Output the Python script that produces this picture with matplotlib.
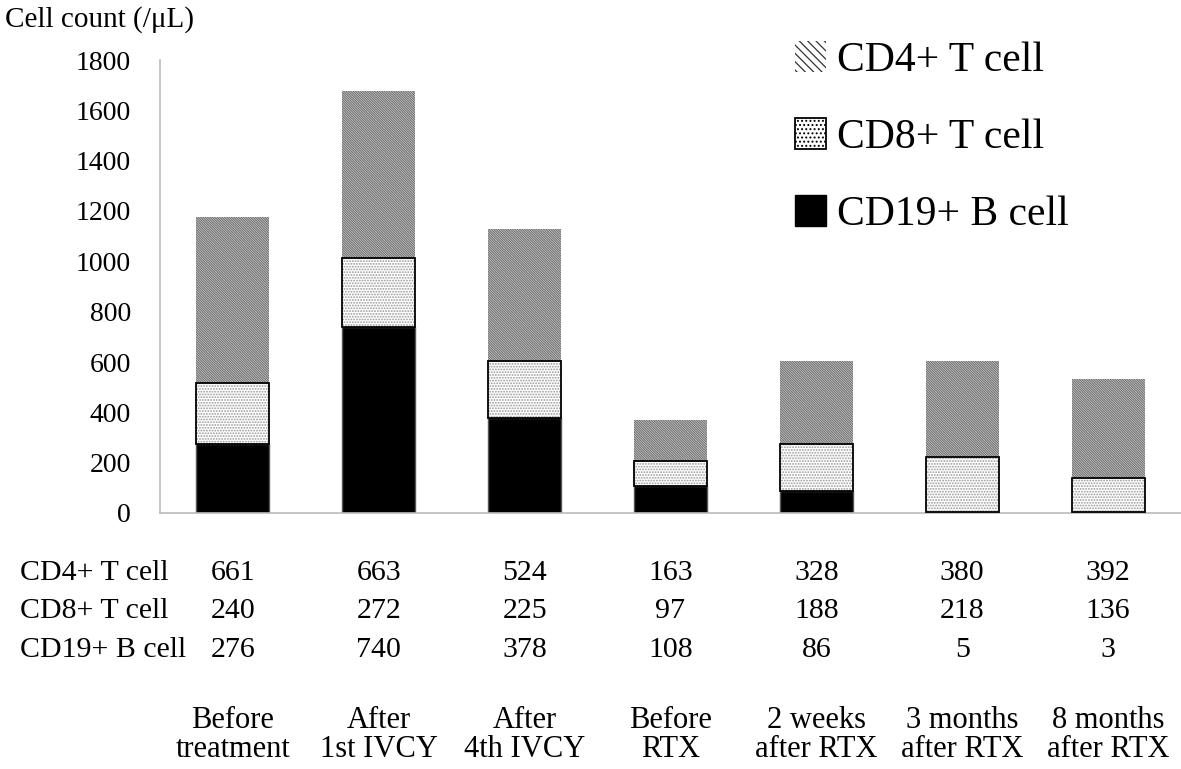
import matplotlib
matplotlib.use("Agg")
import matplotlib.pyplot as plt
from matplotlib.patches import Patch
from matplotlib.transforms import blended_transform_factory
import numpy as np

categories = ["Before\ntreatment", "After\n1st IVCY", "After\n4th IVCY", "Before\nRTX",
              "2 weeks\nafter RTX", "3 months\nafter RTX", "8 months\nafter RTX"]
cd4 = [661, 663, 524, 163, 328, 380, 392]
cd8 = [240, 272, 225, 97, 188, 218, 136]
cd19 = [276, 740, 378, 108, 86, 5, 3]
series_names = ["CD4+ T cell", "CD8+ T cell", "CD19+ B cell"]
yticks = [0, 200, 400, 600, 800, 1000, 1200, 1400, 1600, 1800]

plt.rcParams['font.family'] = ['Liberation Serif', 'DejaVu Serif']
plt.rcParams['hatch.linewidth'] = 0.9

W, H = 1181, 769
fig = plt.figure(figsize=(W / 100, H / 100), dpi=100)
ax = fig.add_axes([160 / W, 1 - 513 / H, 1 - 160 / W, (513 - 60) / H])

x = np.arange(len(categories))
bw = 0.5
cd19a = np.array(cd19)
cd8a = np.array(cd8)
cd4a = np.array(cd4)

ax.bar(x, cd19a, bw, color='black', edgecolor='#555555', linewidth=1.0, zorder=2)
ax.bar(x, cd8a, bw, bottom=cd19a, facecolor='white', edgecolor='#999999',
       hatch='......', linewidth=0, zorder=2)
ax.bar(x, cd8a, bw, bottom=cd19a, fill=False, edgecolor='black', linewidth=1.3, zorder=3)
ax.bar(x, cd4a, bw, bottom=cd19a + cd8a, facecolor='white', edgecolor='#707070',
       hatch='\\' * 14, linewidth=0, zorder=2)

ax.set_xlim(-0.5, len(categories) - 0.5)
ax.set_ylim(0, 1800)
ax.set_yticks(yticks)
ax.set_yticklabels([str(v) for v in yticks], fontsize=20)
ax.tick_params(axis='y', length=0, pad=21)
ax.set_xticks([])
for s in ['top', 'right']:
    ax.spines[s].set_visible(False)
for s in ['left', 'bottom']:
    ax.spines[s].set_color('#bbbbbb')
    ax.spines[s].set_linewidth(1.2)

fig.text(5 / W, 1 - 20 / H, "Cell count (/μL)", fontsize=21, ha='left', va='center')

tr = blended_transform_factory(ax.transData, fig.transFigure)
rows = [cd4, cd8, cd19]
row_y = [573, 611, 650]
for name, vals, yy in zip(series_names, rows, row_y):
    fig.text(20 / W, 1 - yy / H, name, fontsize=21.5, ha='left', va='center')
    for xi, v in zip(x, vals):
        ax.text(xi, 1 - yy / H, str(v), transform=tr, fontsize=21.5, ha='center', va='center')

for xi, c in zip(x, categories):
    ax.text(xi, 1 - 735 / H, c, transform=tr, fontsize=22, ha='center', va='center',
            linespacing=1.02)

handles = [
    Patch(facecolor='white', edgecolor='#333333', hatch='\\\\\\\\', linewidth=0),
    Patch(facecolor='white', edgecolor='black', hatch='....', linewidth=1.3),
    Patch(facecolor='black', edgecolor='black'),
]
fig.legend(handles, series_names, loc='upper left', bbox_to_anchor=(795 / W, 1 - 41 / H),
           frameon=False, fontsize=30, handlelength=0.75, handleheight=0.75,
           handletextpad=0.25, labelspacing=0.92, borderpad=0, borderaxespad=0)

fig.savefig("out.png", dpi=100)
